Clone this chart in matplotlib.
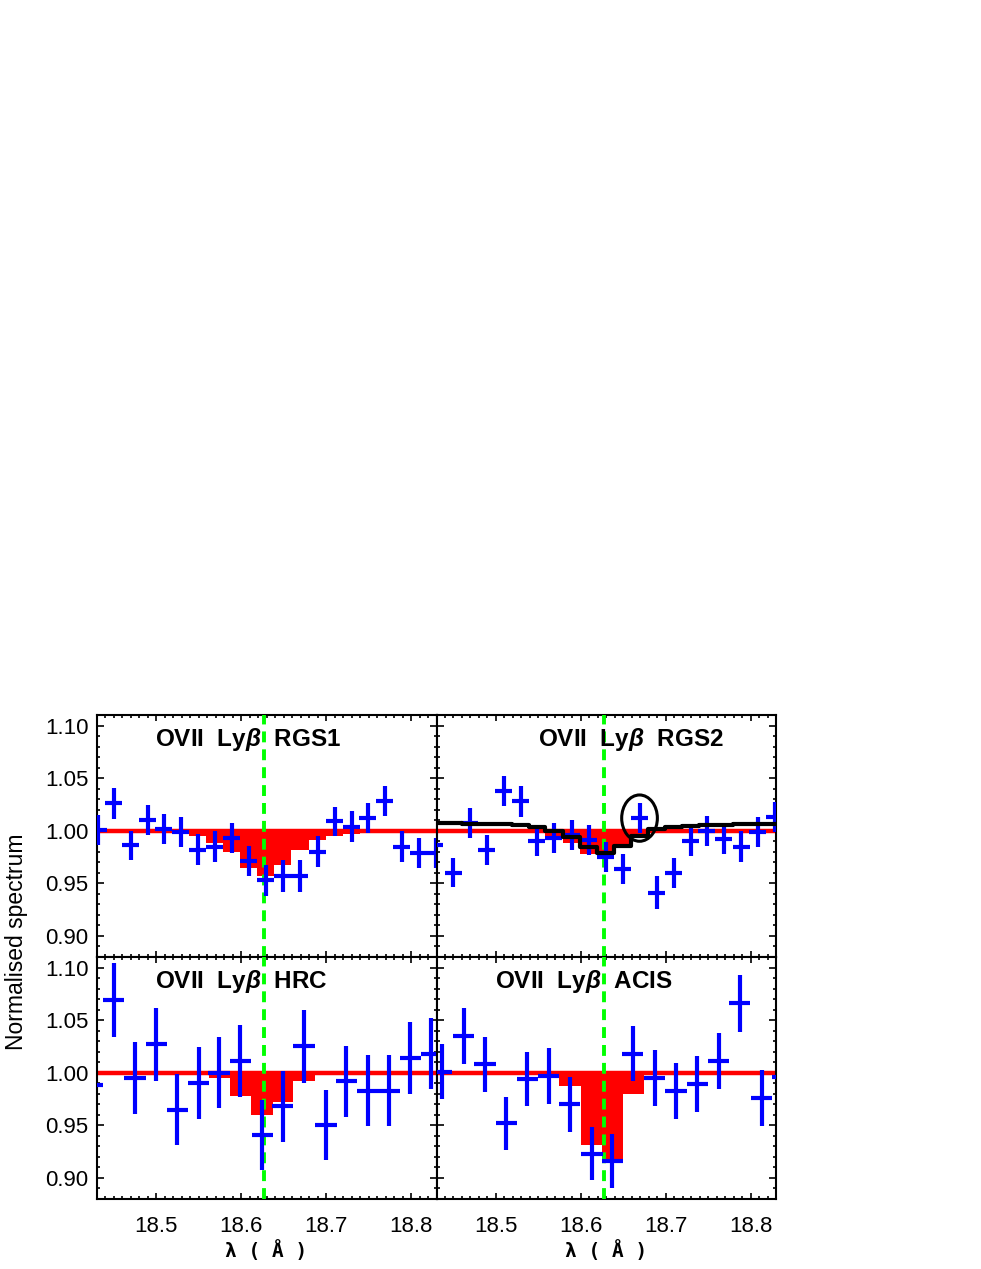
import matplotlib
matplotlib.use("Agg")
import matplotlib.pyplot as plt
from matplotlib.patches import Ellipse
from matplotlib.ticker import MultipleLocator, FormatStrFormatter

plt.rcParams['font.family'] = ['Liberation Sans', 'DejaVu Sans']
plt.rcParams['mathtext.fontset'] = 'custom'
plt.rcParams['mathtext.it'] = 'Liberation Sans:italic:bold'
plt.rcParams['mathtext.rm'] = 'Liberation Sans:bold'

# line position (Angstrom)
line_wl = 18.627

# ---- RGS1 ----
rgs1_x = [18.432, 18.450, 18.470, 18.490, 18.509, 18.529, 18.549, 18.569, 18.589, 18.609, 18.629,
          18.649, 18.669, 18.690, 18.710, 18.730, 18.749, 18.769, 18.789, 18.809, 18.829]
rgs1_y = [1.001, 1.026, 0.986, 1.010, 1.002, 0.999, 0.982, 0.985, 0.993, 0.971, 0.953,
          0.957, 0.957, 0.980, 1.009, 1.004, 1.012, 1.028, 0.985, 0.979, 0.979]
rgs1_err = [0.0142, 0.0146, 0.0136, 0.0142, 0.0142, 0.0142, 0.0146, 0.0146, 0.0142, 0.0142, 0.0146,
            0.0150, 0.0155, 0.0146, 0.0139, 0.0146, 0.0142, 0.0144, 0.0146, 0.0142, 0.0142]
rgs1_model = [1.0, 1.0, 1.0, 0.9995, 0.998, 0.997, 0.9946, 0.988, 0.980, 0.9646, 0.9567,
              0.967, 0.982, 0.9915, 0.9946, 0.9968, 0.999, 1.0, 1.0, 1.0, 1.0]

# ---- RGS2 ----
rgs2_x = [18.428, 18.450, 18.469, 18.489, 18.509, 18.529, 18.548, 18.568, 18.589, 18.609, 18.629,
          18.649, 18.669, 18.689, 18.709, 18.729, 18.748, 18.768, 18.789, 18.808, 18.828]
rgs2_y = [0.986, 0.960, 1.007, 0.982, 1.038, 1.028, 0.990, 0.993, 0.996, 0.991, 0.975,
          0.964, 1.012, 0.941, 0.960, 0.990, 1.000, 0.992, 0.985, 0.999, 1.013]
rgs2_err = [0.0142, 0.0139, 0.0142, 0.0142, 0.0142, 0.0146, 0.0142, 0.0142, 0.0142, 0.0142, 0.0142,
            0.0142, 0.0146, 0.0158, 0.0142, 0.0142, 0.0142, 0.0142, 0.0149, 0.0142, 0.0142]
rgs2_model = [1.0, 1.0, 1.0, 1.0, 1.0, 0.999, 0.998, 0.9946, 0.988, 0.978, 0.974,
              0.9835, 0.997, 0.999, 1.0, 1.0, 1.0, 1.0, 1.0, 1.0, 1.0]
rgs2_cont = [1.0071, 1.0071, 1.0068, 1.0065, 1.0060, 1.0052, 1.0035, 1.0000, 0.9937, 0.9848, 0.9791,
             0.9855, 0.9950, 1.0013, 1.0033, 1.0046, 1.0055, 1.0058, 1.0062, 1.0065, 1.0065]
circled = 12

# ---- HRC ----
hrc_x = [18.425, 18.450, 18.475, 18.500, 18.525, 18.550, 18.574, 18.599, 18.625, 18.649, 18.674,
         18.700, 18.724, 18.749, 18.774, 18.799, 18.824]
hrc_y = [0.988, 1.069, 0.995, 1.027, 0.965, 0.990, 1.000, 1.011, 0.941, 0.968, 1.025,
         0.950, 0.992, 0.983, 0.983, 1.014, 1.018]
hrc_err = [0.034, 0.0355, 0.0345, 0.0348, 0.0336, 0.0342, 0.0339, 0.0342, 0.0333, 0.0336, 0.0345,
           0.0333, 0.0336, 0.0336, 0.0336, 0.0339, 0.0339]
hrc_model = [1.0, 1.0, 1.0, 1.0, 1.0, 1.0, 0.9947, 0.9778, 0.9598, 0.9724, 0.9924,
             1.0, 1.0, 1.0, 1.0, 1.0, 1.0]

# ---- ACIS ----
acis_x = [18.436, 18.462, 18.487, 18.512, 18.537, 18.562, 18.587, 18.613, 18.637, 18.661, 18.687,
          18.712, 18.737, 18.762, 18.787, 18.813, 18.838]
acis_y = [1.001, 1.035, 1.008, 0.952, 0.994, 0.997, 0.970, 0.923, 0.916, 1.018, 0.995,
          0.983, 0.989, 1.011, 1.066, 0.976, 0.996]
acis_err = [0.026, 0.0266, 0.0263, 0.0253, 0.026, 0.0263, 0.026, 0.0253, 0.0256, 0.0263, 0.0263,
            0.0266, 0.0266, 0.0266, 0.0272, 0.0263, 0.026]
acis_model = [1.0, 1.0, 1.0, 1.0, 1.0, 1.0, 0.9873, 0.9313, 0.918, 0.9797, 1.0,
              1.0, 1.0, 1.0, 1.0, 1.0, 1.0]

titles = ['OVII  Ly$\\beta$  RGS1', 'OVII  Ly$\\beta$  RGS2',
          'OVII  Ly$\\beta$  HRC', 'OVII  Ly$\\beta$  ACIS']

W, H = 981, 1269
fig = plt.figure(figsize=(W / 100, H / 100), dpi=100)


def px_axes(x0, y0, x1, y1):
    return fig.add_axes([x0 / W, 1 - y1 / H, (x1 - x0) / W, (y1 - y0) / H])


ax_rgs1 = px_axes(96.7, 715, 436.5, 957)
ax_rgs2 = px_axes(436.5, 715, 776.3, 957)
ax_hrc = px_axes(96.7, 957, 436.5, 1199)
ax_acis = px_axes(436.5, 957, 776.3, 1199)

panels = [
    (ax_rgs1, rgs1_x, rgs1_y, rgs1_err, rgs1_model, 0.0099, titles[0], 0.171),
    (ax_rgs2, rgs2_x, rgs2_y, rgs2_err, rgs2_model, 0.0099, titles[1], 0.2985),
    (ax_hrc, hrc_x, hrc_y, hrc_err, hrc_model, 0.0125, titles[2], 0.171),
    (ax_acis, acis_x, acis_y, acis_err, acis_model, 0.0125, titles[3], 0.171),
]

for ax, x, y, err, model, hw, title, tx in panels:
    ax.fill_between(x, model, 1.0, step='mid', color='red', lw=0, zorder=1)
    ax.axhline(1.0, color='red', lw=3.2, zorder=2)
    ax.axvline(line_wl, color='#00ff00', lw=2.8, ls=(0, (2.8, 1.8)), zorder=3)
    ax.errorbar(x, y, xerr=hw, yerr=err, fmt='none', ecolor='blue',
                elinewidth=3.0, capsize=0, zorder=4)
    ax.set_xlim(18.43, 18.83)
    ax.set_ylim(0.88, 1.11)
    ax.xaxis.set_major_locator(MultipleLocator(0.1))
    ax.xaxis.set_minor_locator(MultipleLocator(0.01))
    ax.yaxis.set_major_locator(MultipleLocator(0.05))
    ax.yaxis.set_minor_locator(MultipleLocator(0.01))
    ax.xaxis.set_major_formatter(FormatStrFormatter('%.1f'))
    ax.yaxis.set_major_formatter(FormatStrFormatter('%.2f'))
    ax.tick_params(which='both', direction='in', top=True, right=True,
                   width=1.2, labelsize=16)
    ax.tick_params(axis='x', which='major', length=4, pad=12)
    ax.tick_params(axis='x', which='minor', length=2)
    ax.tick_params(axis='y', which='major', length=5, pad=6)
    ax.tick_params(axis='y', which='minor', length=2.5)
    for s in ax.spines.values():
        s.set_linewidth(1.5)
    ax.text(tx, 0.90, title, transform=ax.transAxes, ha='left', va='center',
            fontsize=17.5, fontweight='bold', zorder=6)

# continuum model and circled bin in RGS2
ax_rgs2.plot(rgs2_x, rgs2_cont, drawstyle='steps-mid', color='black', lw=3, zorder=5)
ax_rgs2.add_patch(Ellipse((rgs2_x[circled], rgs2_y[circled]), 0.042, 0.044,
                          fill=False, ec='black', lw=2.2, zorder=6))

for ax in (ax_rgs1, ax_rgs2):
    ax.tick_params(axis='x', labelbottom=False)
for ax in (ax_rgs2, ax_acis):
    ax.tick_params(axis='y', labelleft=False)

fig.text(17 / W, 1 - 942 / H, 'Normalised spectrum', rotation=90,
         ha='center', va='center', fontsize=16.5)
for xc in (266.6, 606.4):
    fig.text(xc / W, 1 - 1251 / H, 'λ ( Å )', ha='center', va='center',
             fontsize=14, fontweight='bold', family='DejaVu Sans Mono')

fig.savefig('out.png', dpi=100)
